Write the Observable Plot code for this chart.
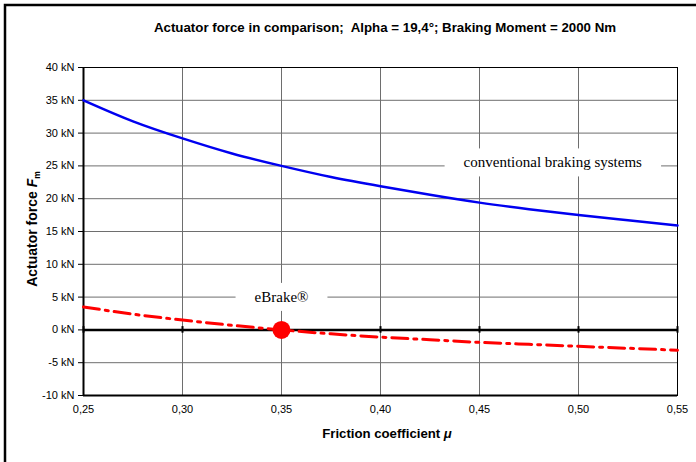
<!DOCTYPE html>
<html><head><meta charset="utf-8">
<script src="https://cdn.jsdelivr.net/npm/d3@7"></script>
<script src="https://cdn.jsdelivr.net/npm/@observablehq/plot@0.6"></script>
<style>
html,body{margin:0;padding:0;background:#fff;}
#chart{position:relative;width:696px;height:462px;overflow:hidden;}
</style>
</head><body><div id="chart"></div>
<script>
// Data
const mu = [0.25, 0.275, 0.30, 0.325, 0.35, 0.375, 0.40, 0.425, 0.45, 0.475, 0.50, 0.525, 0.55];
const conventional = [35.0, 31.8, 29.2, 26.9, 25.0, 23.3, 21.9, 20.6, 19.4, 18.4, 17.5, 16.7, 15.9];
const eBrake = [3.5, 2.4, 1.5, 0.7, 0.0, -0.6, -1.1, -1.5, -1.9, -2.2, -2.5, -2.8, -3.1];
const xTicks = [0.25, 0.30, 0.35, 0.40, 0.45, 0.50, 0.55];
const yTicks = [-10, -5, 0, 5, 10, 15, 20, 25, 30, 35, 40];
const xDomain = [0.25, 0.55];
const yDomain = [-10, 40];
const eBrakePoint = [{mu: 0.35, f: 0}];
const labels = [
  {mu: 0.487, f: 25.5, text: "conventional braking systems"},
  {mu: 0.35, f: 5.0, text: "eBrake®"}
];
const title = "Actuator force in comparison;  Alpha = 19,4°; Braking Moment = 2000 Nm";

const convData = mu.map((m, i) => ({mu: m, f: conventional[i]}));
const ebData = mu.map((m, i) => ({mu: m, f: eBrake[i]}));
const comma = d => d3.format(".2f")(d).replace(".", ",");

const W = 696, H = 462;
const plot = Plot.plot({
  width: W, height: H,
  marginLeft: 83, marginRight: 19, marginTop: 67, marginBottom: 67,
  style: {fontFamily: "'Liberation Sans', Arial, sans-serif", fontSize: "11px", background: "#fff", color: "#000"},
  x: {domain: xDomain, ticks: xTicks, tickFormat: comma, tickSize: 0, tickPadding: 10, label: null},
  y: {domain: yDomain, ticks: yTicks, tickFormat: d => d + " kN", tickSize: 5, tickPadding: 4, label: null},
  marks: [
    Plot.ruleX(xTicks, {stroke: "#6e6e6e", strokeWidth: 1}),
    Plot.ruleY(yTicks, {stroke: "#6e6e6e", strokeWidth: 1}),
    Plot.text(labels, {x: "mu", y: "f", text: "text", fontFamily: "'Liberation Serif', 'Times New Roman', serif", fontSize: 15, fill: "#000"}),
    Plot.frame({stroke: "#000", strokeWidth: 1}),
    Plot.ruleX([xDomain[0]], {stroke: "#000", strokeWidth: 2}),
    Plot.ruleY([yDomain[0]], {stroke: "#000", strokeWidth: 2}),
    Plot.ruleY([0], {stroke: "#000", strokeWidth: 2.5}),
    Plot.ruleX(xTicks, {y1: -0.5, y2: 0.5, stroke: "#000", strokeWidth: 2}),
    Plot.line(convData, {x: "mu", y: "f", stroke: "#0000f0", strokeWidth: 2.5, curve: "natural"}),
    Plot.line(ebData, {x: "mu", y: "f", stroke: "#ff0000", strokeWidth: 3, strokeDasharray: "16,6,3,6", curve: "natural"}),
    Plot.dot(eBrakePoint, {x: "mu", y: "f", r: 9, fill: "#ff0000", stroke: "none"})
  ]
});
document.getElementById("chart").appendChild(plot);

const svg = d3.select(plot);
// white boxes behind annotation labels (same transform as the text)
const pads = {"conventional braking systems": [19, 7], "eBrake®": [19, 7]};
svg.selectAll("text").filter(function(){ return pads[this.textContent] !== undefined; }).each(function(){
  const bb = this.getBBox();
  const [px, py] = pads[this.textContent];
  const r = document.createElementNS("http://www.w3.org/2000/svg", "rect");
  r.setAttribute("x", bb.x - px);
  r.setAttribute("y", bb.y - py + 1);
  r.setAttribute("width", bb.width + 2 * px);
  r.setAttribute("height", bb.height + 2 * py - 2);
  r.setAttribute("fill", "#fff");
  r.setAttribute("stroke", "none");
  const t = this.getAttribute("transform");
  if (t) r.setAttribute("transform", t);
  this.parentNode.insertBefore(r, this);
});

// outer border (left, top)
svg.append("path").attr("d", `M5,${H} V5 H${W}`).attr("fill", "none").attr("stroke", "#000").attr("stroke-width", 2.5);

// title
svg.append("text").attr("x", 385).attr("y", 32).attr("text-anchor", "middle")
  .attr("font-family", "'Liberation Sans', Arial, sans-serif").attr("font-size", 13.3).attr("font-weight", "bold")
  .text(title);

// x label
const xl = svg.append("text").attr("x", 387).attr("y", 438).attr("text-anchor", "middle")
  .attr("font-family", "'Liberation Sans', Arial, sans-serif").attr("font-size", 13.2).attr("font-weight", "bold");
xl.append("tspan").text("Friction coefficient ");
xl.append("tspan").attr("font-style", "italic").text("μ");

// y label
const yl = svg.append("text").attr("transform", "translate(37,229) rotate(-90)").attr("text-anchor", "middle")
  .attr("font-family", "'Liberation Sans', Arial, sans-serif").attr("font-size", 14).attr("font-weight", "bold");
yl.append("tspan").text("Actuator force ");
yl.append("tspan").attr("font-style", "italic").text("F");
yl.append("tspan").attr("font-size", 8.5).attr("dy", 3).text("m");
</script>
</body></html>
